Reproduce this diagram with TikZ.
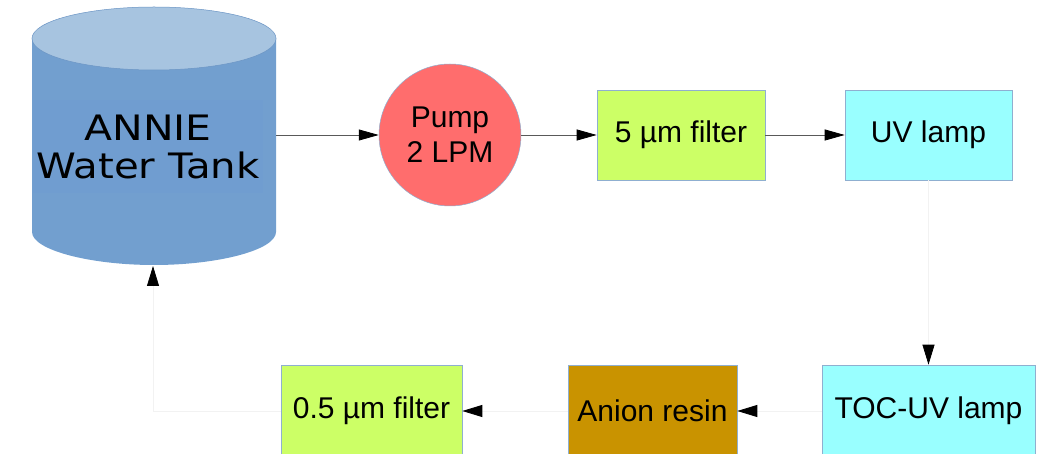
\documentclass[tikz,border=0pt]{standalone}
\usepackage{fontspec}
\setmainfont{Liberation Sans}
\newfontfamily\tankfont{DejaVu Sans}
\usetikzlibrary{arrows.meta}
\definecolor{tankbody}{HTML}{729FCF}
\definecolor{tanktop}{HTML}{A7C4E0}
\definecolor{tankedge}{HTML}{6A94C4}
\definecolor{tanktext}{HTML}{709DD0}
\definecolor{pumpred}{HTML}{FF6D6D}
\definecolor{lime}{HTML}{CCFF66}
\definecolor{cyanbox}{HTML}{99FFFF}
\definecolor{gold}{HTML}{C99300}
\definecolor{boxedge}{HTML}{8FAFD0}
\begin{document}
\begin{tikzpicture}[x=1pt,y=-1pt,
  procbox/.style={draw=boxedge, line width=0.6pt, minimum height=90pt, inner sep=0pt,
    font=\fontsize{30}{34}\selectfont},
  flow/.style={draw=black!65, line width=0.8pt, -{Triangle[length=20pt,width=11pt,color=black]}},
  faintflow/.style={draw=black!5, line width=0.8pt, -{Triangle[length=20pt,width=12pt,color=black]}}]
\useasboundingbox (0,0) rectangle (1037,454);
% tank
\fill[tankbody] (32,38) -- (32,232) .. controls (32,250) and (90,265) .. (154,265)
  .. controls (218,265) and (276,250) .. (276,232) -- (276,38) -- cycle;
\draw[fill=tanktop, draw=tankedge, line width=0.5pt] (154,38.5) ellipse [x radius=122pt, y radius=31.5pt];
\node[fill=tanktext, minimum width=230pt, minimum height=93pt, inner sep=0pt, align=center,
  font=\tankfont\fontsize{35}{38}\selectfont] (tank) at (148,146.5)
  {\scalebox{1.17}[1]{ANNIE}\\\scalebox{1.15}[1]{Water Tank}};
\coordinate (tankR) at (276,135);
\coordinate (tankB) at (153,266);
% pump
\node[circle, fill=pumpred, draw=boxedge, line width=0.5pt, minimum size=142pt, inner sep=0pt,
  align=center, font=\fontsize{30}{35}\selectfont] (pump) at (450,135) {Pump\\2 LPM};
% boxes
\node[procbox, fill=lime, minimum width=168pt] (f5) at (681,135) {5 µm filter};
\node[procbox, fill=cyanbox, minimum width=167pt] (uv) at (928.5,135) {UV lamp};
\node[procbox, fill=cyanbox, minimum width=213pt, minimum height=92pt] (toc) at (928.5,411) {TOC-UV lamp};
\node[procbox, fill=gold, minimum width=169pt, minimum height=92pt] (anion) at (652.5,411) {Anion resin};
\node[procbox, fill=lime, minimum width=181pt, minimum height=92pt] (f05) at (371.5,411) {0.5 µm filter};
% connectors
\draw[flow] (tankR) -- (pump.west);
\draw[flow] (pump.east) -- (f5.west);
\draw[flow] (f5.east) -- (uv.west);
\draw[faintflow] (uv.south) -- (toc.north);
\draw[faintflow] (toc.west) -- (anion.east);
\draw[faintflow] (anion.west) -- (f05.east);
\draw[faintflow] (f05.west) -| (tankB);
\end{tikzpicture}
\end{document}
